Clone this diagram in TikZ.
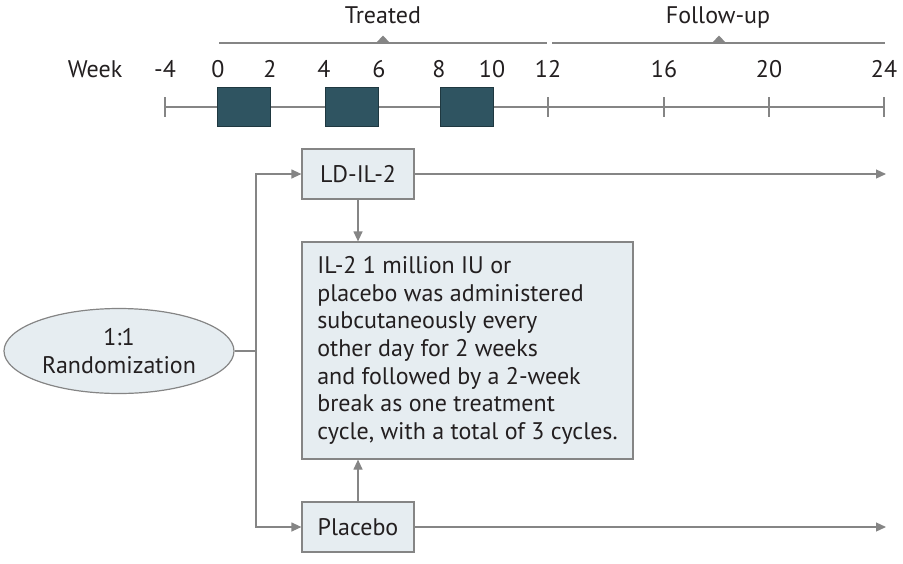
\documentclass[tikz,border=0pt]{standalone}
\usepackage{fontspec}
\setmainfont{PT Sans}
\usetikzlibrary{shapes.geometric,arrows.meta}
\definecolor{txt}{HTML}{231F20}
\definecolor{ln}{HTML}{858585}
\definecolor{lightfill}{HTML}{E6EDF1}
\definecolor{darkfill}{HTML}{2F5461}
\definecolor{darkedge}{HTML}{1F3840}
\begin{document}
\begin{tikzpicture}[x=1pt,y=-1pt,
  every node/.style={text=txt,font=\fontsize{24}{27.7}\selectfont},
  lbl/.style={anchor=base,inner sep=0pt},
  conn/.style={draw=ln,line width=1.2pt},
  arr/.style={conn,-{Triangle[length=10pt,width=9pt]}},
  graybox/.style={draw=ln,fill=lightfill,line width=1.2pt,minimum width=112pt,minimum height=50pt,inner sep=0pt},
  dose/.style={draw=darkedge,fill=darkfill,line width=0.8pt,minimum width=53pt,minimum height=39pt,inner sep=0pt},
  tickmark/.style={draw=ln,line width=1.2pt}]
\useasboundingbox (0,0) rectangle (903,563);
% top brackets
\coordinate (t0) at (219,43); \coordinate (t1) at (547,43);
\coordinate (f0) at (552,43); \coordinate (f1) at (885,43);
\draw[conn] (t0) -- (t1);
\draw[conn] (f0) -- (f1);
\fill[ln] (376,43) -- (383,35.5) -- (390,43) -- cycle;
\fill[ln] (712,43) -- (719,35.5) -- (726,43) -- cycle;
\node[lbl] (treated) at (383,23) {Treated};
\node[lbl] (follow) at (718,23) {Follow-up};
% week labels
\node[lbl] (week) at (95,77) {Week};
\foreach \x/\t in {165/-4,218/0,270/2,324/4,379/6,439/8,492/10,548/12,664/16,769/20,884/24}
  \node[lbl] at (\x,77) {\t};
% axis
\coordinate (a0) at (165,107); \coordinate (a1) at (884,107);
\draw[conn] (a0) -- (a1);
\foreach \x in {165,548,664,769,884}
  \draw[tickmark] (\x,97) -- (\x,117);
\node[dose] (d1) at (243.5,106.5) {};
\node[dose] (d2) at (351.5,106.5) {};
\node[dose] (d3) at (466.5,106.5) {};
% lower flow
\node[ellipse,draw=ln,fill=lightfill,line width=1.2pt,minimum width=230pt,minimum height=85pt,inner sep=0pt,align=center] (rand) at (119,351) {1:1\\Randomization};
\node[graybox] (ld) at (358,174) {LD-IL-2};
\node[graybox] (pl) at (358,527) {Placebo};
\node[draw=ln,fill=lightfill,line width=1.2pt,minimum width=331pt,minimum height=217pt,inner sep=0pt,align=left] (desc) at (467.5,350.5) {IL-2 1 million IU or\\placebo was administered\\subcutaneously every\\other day for 2 weeks\\and followed by a 2-week\\break as one treatment\\cycle, with a total of 3 cycles.};
\coordinate (split) at (256,351);
\coordinate (endld) at (886,174);
\coordinate (endpl) at (886,527);
\draw[conn] (rand.east) -- (split);
\draw[arr] (split) |- (ld.west);
\draw[arr] (split) |- (pl.west);
\draw[arr] (ld.east) -- (endld);
\draw[arr] (pl.east) -- (endpl);
\draw[arr] (ld.south) -- (ld.south |- desc.north);
\draw[arr] (pl.north) -- (pl.north |- desc.south);
\end{tikzpicture}
\end{document}
